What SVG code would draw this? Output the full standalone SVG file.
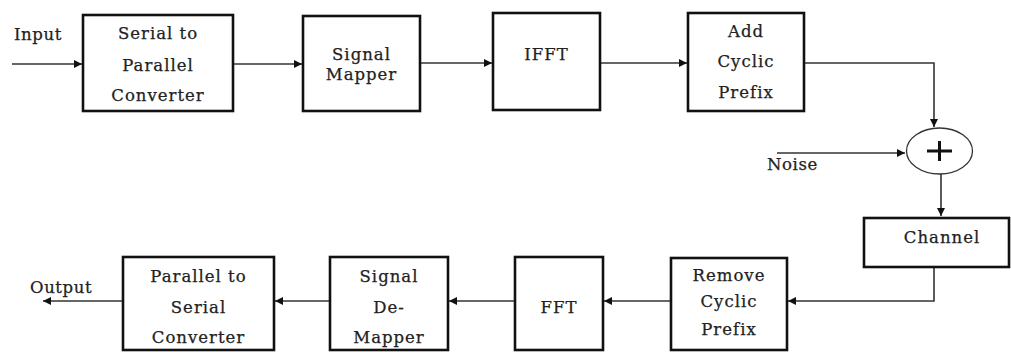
<svg xmlns="http://www.w3.org/2000/svg" width="1011" height="352" viewBox="0 0 1011 352">
<style>
.box{fill:#fff;stroke:#111;stroke-width:2.6}
.t{font-family:"DejaVu Serif","Liberation Serif",serif;font-size:16.5px;fill:#222;text-anchor:middle;letter-spacing:1px;stroke:#222;stroke-width:0.25}
.l{font-family:"DejaVu Serif","Liberation Serif",serif;font-size:16.5px;fill:#222;letter-spacing:0.6px;stroke:#222;stroke-width:0.25}
.c{fill:none;stroke:#333;stroke-width:1.6}
</style>
<defs>
<marker id="ah" viewBox="0 0 10 10" refX="10" refY="5" markerWidth="10" markerHeight="8" markerUnits="userSpaceOnUse" orient="auto">
<path d="M0,0 L10,5 L0,10 z" fill="#111"/>
</marker>
</defs>
<rect width="1011" height="352" fill="#fff"/>
<g id="connectors">
<line class="c" x1="12" y1="64" x2="82" y2="64" marker-end="url(#ah)" stroke="#888"/>
<line class="c" x1="234" y1="64" x2="302" y2="64" marker-end="url(#ah)"/>
<line class="c" x1="421" y1="63" x2="492" y2="63" marker-end="url(#ah)" stroke="#666"/>
<line class="c" x1="601" y1="63" x2="687" y2="63" marker-end="url(#ah)"/>
<polyline class="c" points="805,63 934,63 934,127" marker-end="url(#ah)" stroke="#777"/>
<line class="c" x1="777" y1="153" x2="905" y2="153" marker-end="url(#ah)"/>
<line class="c" x1="941" y1="174" x2="941" y2="216" marker-end="url(#ah)"/>
<polyline class="c" points="934,268 934,301 788,301" marker-end="url(#ah)"/>
<line class="c" x1="670" y1="301" x2="604" y2="301" marker-end="url(#ah)"/>
<line class="c" x1="514" y1="301" x2="449" y2="301" marker-end="url(#ah)" stroke="#888"/>
<line class="c" x1="329" y1="301" x2="275" y2="301" marker-end="url(#ah)"/>
<line class="c" x1="122" y1="301" x2="43" y2="301" marker-end="url(#ah)" stroke="#999"/>
</g>
<g id="input-label"><text class="l" x="14" y="40">Input</text></g>
<g id="s2p">
<rect class="box" x="83" y="15" width="150" height="96"/>
<text class="t" x="158" y="39">Serial to</text>
<text class="t" x="158" y="71">Parallel</text>
<text class="t" x="158" y="101">Converter</text>
</g>
<g id="mapper">
<rect class="box" x="303" y="16" width="117" height="95"/>
<text class="t" x="361.5" y="60">Signal</text>
<text class="t" x="361.5" y="80">Mapper</text>
</g>
<g id="ifft">
<rect class="box" x="493" y="13" width="107" height="97"/>
<text class="t" x="546.5" y="60">IFFT</text>
</g>
<g id="acp">
<rect class="box" x="688" y="13" width="116" height="98"/>
<text class="t" x="746" y="37">Add</text>
<text class="t" x="746" y="67">Cyclic</text>
<text class="t" x="746" y="98">Prefix</text>
</g>
<g id="adder">
<ellipse cx="939.5" cy="151" rx="33" ry="23" fill="#fff" stroke="#333" stroke-width="1.3"/>
<path d="M927,151 H952 M939.5,141 V161" stroke="#111" stroke-width="3" fill="none"/>
</g>
<g id="noise-label"><text class="l" x="767" y="170">Noise</text></g>
<g id="channel">
<rect class="box" x="864" y="218" width="145" height="49"/>
<text class="t" x="942" y="243">Channel</text>
</g>
<g id="rcp">
<rect class="box" x="671" y="258" width="116" height="92"/>
<text class="t" x="729" y="281">Remove</text>
<text class="t" x="729" y="307">Cyclic</text>
<text class="t" x="729" y="335">Prefix</text>
</g>
<g id="fft">
<rect class="box" x="515" y="257" width="88" height="93"/>
<text class="t" x="559" y="313">FFT</text>
</g>
<g id="demapper">
<rect class="box" x="330" y="257" width="118" height="93"/>
<text class="t" x="389" y="282">Signal</text>
<text class="t" x="389" y="313">De-</text>
<text class="t" x="389" y="343">Mapper</text>
</g>
<g id="p2s">
<rect class="box" x="123" y="257" width="151" height="93"/>
<text class="t" x="198.5" y="282">Parallel to</text>
<text class="t" x="198.5" y="313">Serial</text>
<text class="t" x="198.5" y="343">Converter</text>
</g>
<g id="output-label"><text class="l" x="30" y="293">Output</text></g>
</svg>
